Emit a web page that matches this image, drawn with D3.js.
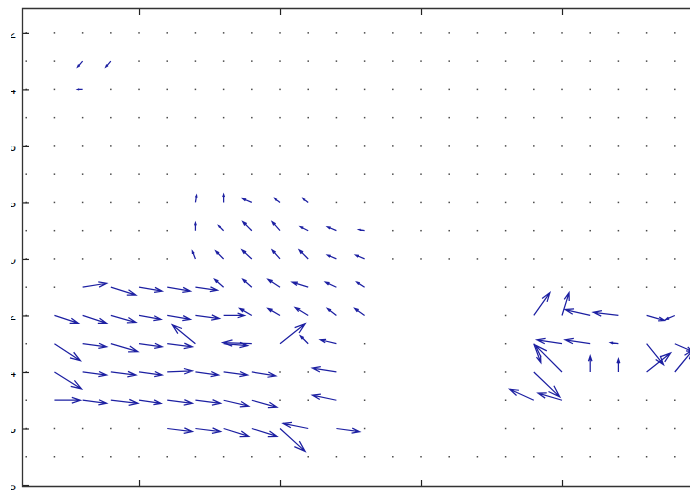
<!DOCTYPE html>
<html>
<head>
<meta charset="utf-8">
<script src="https://cdn.jsdelivr.net/npm/d3@7"></script>
<style>
body { margin: 0; background: #fff; }
svg { display: block; }
</style>
</head>
<body>
<div class="chart"></div>
<script>
var width = 690;
var height = 493;

// quiver grid (columns and rows of the flow field)
var gridCols = [1, 2, 3, 4, 5, 6, 7, 8, 9, 10, 11, 12, 13, 14, 15, 16, 17, 18, 19, 20, 21, 22, 23, 24, 25];
var gridRows = [2, 3, 4, 5, 6, 7, 8, 9, 10, 11, 12, 13, 14, 15, 16, 17];
// cells with no vector at all (NaN)
var blankCols = [14, 15, 16, 17];
var blankRows = [11, 12, 13, 14, 15, 16];

// non-zero vectors: column, row, u, v (axis ij, v > 0 goes down)
var qCol = [3, 4, 3,
	7, 8, 9, 10, 11,
	7, 8, 9, 10, 11, 12, 13,
	7, 8, 9, 10, 11, 12, 13,
	3, 4, 5, 6, 7, 8, 9, 10, 11, 12, 13,
	2, 3, 4, 5, 6, 7, 8, 9, 10, 11, 12, 13, 19, 20, 21, 22, 23, 24,
	2, 3, 4, 5, 6, 7, 8, 9, 10, 11, 12, 19, 20, 21, 22, 23, 24,
	2, 3, 4, 5, 6, 7, 8, 9, 12, 19, 20, 21, 22, 23, 24,
	2, 3, 4, 5, 6, 7, 8, 9, 12, 19, 20,
	6, 7, 8, 9, 10, 11, 12];
var qRow = [3, 3, 4,
	8, 8, 8, 8, 8,
	9, 9, 9, 9, 9, 9, 9,
	10, 10, 10, 10, 10, 10, 10,
	11, 11, 11, 11, 11, 11, 11, 11, 11, 11, 11,
	12, 12, 12, 12, 12, 12, 12, 12, 12, 12, 12, 12, 12, 12, 12, 12, 12, 12,
	13, 13, 13, 13, 13, 13, 13, 13, 13, 13, 13, 13, 13, 13, 13, 13, 13,
	14, 14, 14, 14, 14, 14, 14, 14, 14, 14, 14, 14, 14, 14, 14,
	15, 15, 15, 15, 15, 15, 15, 15, 15, 15, 15,
	16, 16, 16, 16, 16, 16, 16];
var qU = [-0.18, -0.18, -0.18,
	0.04, 0, -0.32, -0.18, -0.18,
	0, -0.18, -0.32, -0.28, -0.28, -0.32, -0.21,
	-0.11, -0.28, -0.35, -0.28, -0.32, -0.32, -0.32,
	0.85, 0.89, 0.82, 0.82, 0.78, -0.32, -0.32, -0.43, -0.57, -0.39, -0.28,
	0.85, 0.85, 0.89, 0.78, 0.82, 0.85, 0.74, -0.43, -0.43, -0.46, -0.32, -0.35, 0.57, 0.25, -0.89, -0.89, 0.64, -0.32,
	0.92, 0.85, 0.96, 0.82, 0.89, -0.82, 0.85, -1.03, 0.89, -0.28, -0.57, 0.25, -0.89, -0.89, -0.28, 0.6, 0.64,
	0.96, 0.85, 0.89, 0.82, 0.89, 0.82, 0.85, 0.85, -0.85, 0.92, -0.96, 0, 0, 0.85, 0.64,
	0.92, 0.85, 0.96, 0.78, 0.89, 0.89, 0.89, 0.89, -0.85, -0.85, -0.85,
	0.89, 0.89, 0.89, 0.89, 0.89, -0.89, 0.82];
var qV = [0.21, 0.21, 0,
	-0.25, -0.28, -0.14, -0.14, -0.14,
	-0.28, -0.18, -0.32, -0.32, -0.14, -0.14, -0.04,
	-0.28, -0.28, -0.32, -0.32, -0.32, -0.14, -0.14,
	-0.14, 0.28, 0.14, 0.14, 0.11, -0.28, -0.28, -0.28, -0.18, -0.18, -0.18,
	0.28, 0.28, 0.25, 0.14, 0.14, 0.11, 0, -0.25, -0.25, -0.28, -0.25, -0.25, -0.81, -0.81, -0.21, -0.11, 0.18, 0.14,
	0.6, 0.11, 0.28, 0.11, 0.11, -0.67, 0.07, -0.04, -0.71, -0.28, -0.14, 0.67, -0.14, -0.14, -0.04, 0.74, 0.28,
	0.6, 0.11, 0.11, 0.11, -0.04, 0.11, 0.11, 0.14, -0.14, 0.88, -0.96, -0.57, -0.46, -0.67, -0.78,
	0, 0.11, 0.11, 0.11, 0.11, 0.11, 0.21, 0.25, -0.18, -0.39, -0.25,
	0.11, 0.11, 0.28, 0.28, 0.81, -0.18, 0.11];

var yTicks = [2, 4, 6, 8, 10, 12, 14, 16, 18];
var xTicks = [5, 10, 15, 20];

var svg = d3.select(".chart").append("svg")
	.attr("width", width)
	.attr("height", height);

svg.append("rect")
	.attr("width", width)
	.attr("height", height)
	.attr("fill", "#fff");

var xScale = d3.scaleLinear()
	.domain([0.85, 26])
	.range([22, 731.2]);
var yScale = d3.scaleLinear()
	.domain([1.12, 18.07])
	.range([8, 487]);

// zero vectors show as tiny dots
var hasVec = {};
qCol.forEach(function (c, i) { hasVec[c + "_" + qRow[i]] = true; });
var dots = [];
gridRows.forEach(function (r) {
	gridCols.forEach(function (c) {
		if (blankCols.indexOf(c) >= 0 && blankRows.indexOf(r) >= 0) return;
		if (hasVec[c + "_" + r]) return;
		dots.push([c, r]);
	});
});

svg.append("g").selectAll("rect")
	.data(dots)
	.enter().append("rect")
	.attr("x", function (d) { return xScale(d[0]) - 0.75; })
	.attr("y", function (d) { return yScale(d[1]) - 0.75; })
	.attr("width", 1.5)
	.attr("height", 1.5)
	.attr("fill", "#4a4a4a");

// arrows, MATLAB style heads (alpha = beta = 0.33)
var alpha = 0.33, beta = 0.33;
function arrowPath(i) {
	var x0 = xScale(qCol[i]), y0 = yScale(qRow[i]);
	var x1 = xScale(qCol[i] + qU[i]), y1 = yScale(qRow[i] + qV[i]);
	var du = x1 - x0, dv = y1 - y0;
	var h1x = x1 - alpha * (du + beta * dv), h1y = y1 - alpha * (dv - beta * du);
	var h2x = x1 - alpha * (du - beta * dv), h2y = y1 - alpha * (dv + beta * du);
	return "M" + x0 + "," + y0 + "L" + x1 + "," + y1 +
		"M" + h1x + "," + h1y + "L" + x1 + "," + y1 + "L" + h2x + "," + h2y;
}

svg.append("g").selectAll("path")
	.data(d3.range(qCol.length))
	.enter().append("path")
	.attr("d", arrowPath)
	.attr("fill", "none")
	.attr("stroke", "#1d20a2")
	.attr("stroke-width", 1.25);

// axes box and ticks
var clip = svg.append("clipPath").attr("id", "lblclip");
clip.append("rect").attr("x", 11).attr("y", 0).attr("width", width).attr("height", height);

var yAxis = d3.axisLeft(yScale).tickValues(yTicks).tickSizeInner(-7).tickSizeOuter(0).tickPadding(6);
var gy = svg.append("g")
	.attr("transform", "translate(22,0)")
	.call(yAxis);
gy.selectAll("text")
	.attr("font-family", "Liberation Sans, Arial, sans-serif")
	.attr("font-size", 13)
	.attr("fill", "#000")
	.attr("clip-path", "url(#lblclip)")
	.attr("transform", "translate(-22,0)")
	.attr("x", 16);

var gt = svg.append("g")
	.attr("transform", "translate(0,8)")
	.call(d3.axisTop(xScale).tickValues(xTicks).tickSizeInner(-7).tickSizeOuter(0).tickFormat(""));
var gb = svg.append("g")
	.attr("transform", "translate(0,487)")
	.call(d3.axisBottom(xScale).tickValues(xTicks).tickSizeInner(-7).tickSizeOuter(0).tickFormat(""));

svg.selectAll(".domain").remove();
svg.selectAll(".tick line").attr("stroke", "#222").attr("stroke-width", 1.2);

svg.append("path")
	.attr("d", "M731,8.5H22.5V486.5H731")
	.attr("fill", "none")
	.attr("stroke", "#333")
	.attr("stroke-width", 1.3);
</script>
</body>
</html>
